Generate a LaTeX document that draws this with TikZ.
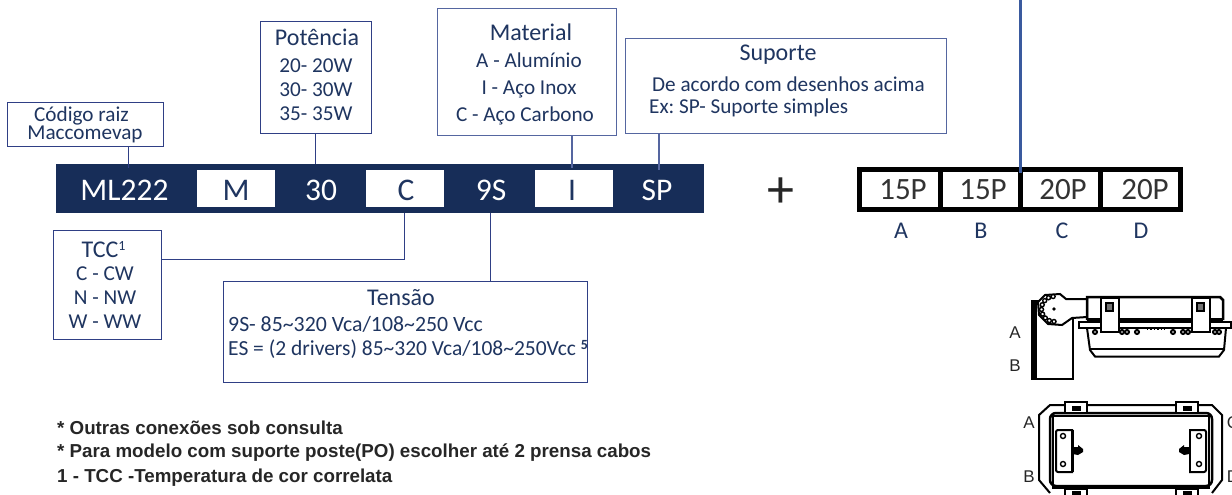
\documentclass[tikz,border=0pt]{standalone}
\usepackage{fontspec}
\setmainfont{Carlito}
\newfontfamily\notefont{Liberation Sans}
\usepackage{xcolor}
\definecolor{navy}{HTML}{172D58}
\definecolor{boxline}{HTML}{2F3F85}
\definecolor{slate}{HTML}{5566A0}
\definecolor{txt}{HTML}{1F3560}
\definecolor{cable}{HTML}{3A5A9E}
\newcommand{\fsz}[1]{\fontsize{#1}{#1}\selectfont}
\frenchspacing

\begin{document}
\begin{tikzpicture}[x=1pt,y=-1pt]
    \tikzset{infobox/.style = {shape=rectangle, draw=boxline, line width=1, inner sep=0, fill=white}}
    \tikzset{softbox/.style = {infobox, draw=slate}}
    \tikzset{title/.style = {inner sep=0, text=txt, font=\fsz{24}}}
    \tikzset{entry/.style = {inner sep=0, text=txt, font=\fsz{21.2}}}
    \tikzset{barcell/.style = {shape=rectangle, fill=white, inner sep=0, minimum width=78, minimum height=37}}
    \tikzset{bartext/.style = {inner sep=0, text=white, font=\fsz{31.5}}}
    \tikzset{link/.style = {draw=boxline, line width=1}}
    \tikzset{softlink/.style = {draw=slate, line width=1.2}}
    \tikzset{pincell/.style = {shape=rectangle, draw=black, line width=5, inner sep=0, minimum width=80.5, minimum height=40.5}}
    \tikzset{pintext/.style = {inner sep=0, text=black!80, font=\fsz{31}}}
    \tikzset{pinname/.style = {inner sep=0, text=txt, font=\fsz{24}}}
    \tikzset{note/.style = {anchor=west, inner sep=0, text=black!85, font=\notefont\bfseries\fsz{18.75}}}
    \tikzset{viewlabel/.style = {inner sep=0, text=black!85, font=\notefont\fsz{17}}}
    \tikzset{part/.style = {draw=black, line width=1.4}}

    \useasboundingbox (0,0) rectangle (1232,495);
    \clip (0,0) rectangle (1232,495);

    % code bar
    \node[shape=rectangle, fill=navy, inner sep=0, minimum width=648, minimum height=49] (bar) at (380,188.5) {};
    \node[barcell] (cellm) at (236,188.5) {};
    \node[barcell] (cellc) at (405,188.5) {};
    \node[barcell] (celli) at (574,188.5) {};
    \node[bartext] (ml) at (124.5,190) {ML222};
    \node[bartext, text=txt] (m) at (236,190) {M};
    \node[bartext] (pw) at (321,190) {30};
    \node[bartext, text=txt] (c) at (406,190) {C};
    \node[bartext] (ns) at (491,190) {9S};
    \node[bartext, text=txt] (i) at (572,190) {I};
    \node[bartext] (sp) at (657,190) {SP};

    % boxes above
    \node[infobox, minimum width=156.5, minimum height=44] (cod) at (85.25,124) {};
    \node[entry] (cod1) at (81.5,116) {Código raiz};
    \node[entry] (cod2) at (85,134) {Maccomevap};

    \node[infobox, minimum width=111, minimum height=111.5] (pot) at (315.5,77.25) {};
    \node[title] (pot0) at (317,37) {Potência};
    \node[entry] (pot1) at (316,66) {20- 20W};
    \node[entry] (pot2) at (316,90) {30- 30W};
    \node[entry] (pot3) at (316,114) {35- 35W};

    \node[softbox, minimum width=179, minimum height=126.5] (mat) at (526.5,71.75) {};
    \node[title] (mat0) at (531,32) {Material};
    \node[entry] (mat1) at (529,60) {A - Alumínio};
    \node[entry] (mat2) at (529,89) {I - Aço Inox};
    \node[entry] (mat3) at (525,116) {C - Aço Carbono};

    \node[softbox, minimum width=320.5, minimum height=94] (sup) at (785.75,86) {};
    \node[title] (sup0) at (778,55) {Suporte};
    \node[entry, anchor=west] (sup1) at (652,84) {De acordo com desenhos acima};
    \node[entry, anchor=west] (sup2) at (649,108) {Ex: SP- Suporte simples};

    % boxes below
    \node[infobox, minimum width=108, minimum height=109] (tcc) at (107,284.5) {};
    \node[title] (tcc0) at (103.5,250) {TCC\raisebox{7pt}{\fsz{14}1}};
    \node[entry] (tcc1) at (105,274) {C - CW};
    \node[entry] (tcc2) at (105,298) {N - NW};
    \node[entry] (tcc3) at (105,322) {W - WW};

    \node[infobox, minimum width=364, minimum height=101] (ten) at (405,331.5) {};
    \node[title] (ten0) at (401,298) {Tensão};
    \node[entry, anchor=west, font=\fsz{21.8}] (ten1) at (228,324) {9S- 85\textasciitilde 320 Vca/108\textasciitilde 250 Vcc};
    \node[entry, anchor=west, font=\fsz{21.5}] (ten2) at (228,349) {ES = (2 drivers) 85\textasciitilde 320 Vca/108\textasciitilde 250Vcc \raisebox{6pt}{\fsz{14}\textbf{5}}};

    % connectors
    \coordinate (codfoot) at (128.5,168);
    \coordinate (potfoot) at (315,164);
    \coordinate (matfoot) at (572,168);
    \coordinate (supfoot) at (659,170);
    \coordinate (tccfoot) at (404,213);
    \coordinate (tccbend) at (404,259);
    \coordinate (tenfoot) at (490,213);
    \draw[link] (codfoot |- cod.south) -- (codfoot);
    \draw[link] (potfoot |- pot.south) -- (potfoot);
    \draw[softlink] (matfoot |- mat.south) -- (matfoot);
    \draw[softlink] (supfoot |- sup.south) -- (supfoot);
    \draw[link] (tcc.east |- tccbend) -- (tccbend) -- (tccfoot);
    \draw[link] (tenfoot |- ten.north) -- (tenfoot);

    % plus
    \node[inner sep=0, text=black!85, font=\fsz{54}] (plus) at (780.5,193) {+};

    % pin table
    \node[pincell] (pa) at (900,189.5) {};
    \node[pincell] (pb) at (980.5,189.5) {};
    \node[pincell] (pc) at (1060.5,189.5) {};
    \node[pincell] (pd) at (1140.5,189.5) {};
    \node[pintext] (ta) at (903,190) {15P};
    \node[pintext] (tb) at (983,190) {15P};
    \node[pintext] (tc) at (1063,190) {20P};
    \node[pintext] (td) at (1145,190) {20P};
    \node[pinname] (na) at (901,231) {A};
    \node[pinname] (nb) at (981,231) {B};
    \node[pinname] (nc) at (1062,231) {C};
    \node[pinname] (nd) at (1141,231) {D};
    \coordinate (cabletop) at (1020.5,0);
    \draw[draw=cable, line width=2.2] (cabletop) -- (1020.5,173);

    % notes
    \node[note] (n1) at (57,428) {* Outras conexões sob consulta};
    \node[note] (n2) at (57,453) {* Para modelo com suporte poste(PO) escolher até 2 prensa cabos};
    \node[note] (n3) at (57,478) {1 - TCC -Temperatura de cor correlata};

    % side view
    \draw[part] (1032,301) rectangle (1073,379);
    \fill (1032,301) rectangle (1037,379);
    \draw[part, line width=2, fill=white] (1045,295) -- (1060,294) -- (1066,299) -- (1087,299) -- (1087,317) -- (1072,318) -- (1062,325) -- (1048,324) -- (1039,315) -- (1038,302) -- cycle;
    \foreach \ang in {90,112,...,270}
        \draw[part, fill=white] (1054,309) ++(\ang:12.5) circle (2);
    \fill (1054,309) circle (1.8);
    \draw[part, line width=2.5] (1087,320) -- (1087,297) -- (1220,297) -- (1223,300) -- (1223,320);
    \draw[part, line width=3.5] (1087,320) -- (1223,320);
    \draw[part, fill=white] (1079,322) rectangle (1231,328);
    \draw[part, line width=2] (1087,328) -- (1090,350) -- (1095,356.5) -- (1219,356.5) -- (1224,350) -- (1226,328);
    \draw[part] (1090,349) -- (1224,349);
    \foreach \px in {1095,1122,1127,1137,1173,1183,1188,1215,1219}
        \draw[part, line width=2, fill=white] (\px,332) circle (2);
    \draw[part, dotted] (1147,329) -- (1165,329);
    \foreach \px in {1101,1192} {
        \draw[part, line width=2, fill=white] (\px,298) rectangle (\px+18,332);
        \draw[part, fill=black!55] (\px+5,303) rectangle (\px+12,311);
    }
    \node[viewlabel] (sa) at (1015,333) {A};
    \node[viewlabel] (sb) at (1015,366) {B};

    % bottom view
    \draw[part, line width=2] (1050,493) -- (1039,480) -- (1039,415) -- (1050,405) -- (1212,405) -- (1222,415) -- (1222,480) -- (1212,493);
    \draw[part, line width=2.5, rounded corners=6] (1050,413) rectangle (1212,486);
    \draw[part] (1053,416) rectangle (1209,488);
    \foreach \px in {1065,1176} {
        \draw[part, line width=2, fill=white] (\px,402) rectangle (\px+22,413);
        \fill (\px+7,406) rectangle (\px+16,411);
        \draw[part, line width=2, fill=white] (\px,489) rectangle (\px+22,500);
        \fill (\px+7,491) rectangle (\px+16,500);
    }
    \draw[part, line width=2, rounded corners=2] (1073,430) -- (1056,430) -- (1056,472) -- (1073,472);
    \fill (1071,430) rectangle (1073.5,472);
    \draw[part] (1063,436) circle (2.5);
    \draw[part] (1063,464) circle (2.5);
    \fill (1073,447) -- (1078,447) -- (1078,445) -- (1083,449) -- (1083,452) -- (1078,455) -- (1073,454) -- cycle;
    \draw[part, line width=2, rounded corners=2] (1189,430) -- (1206,430) -- (1206,472) -- (1189,472);
    \fill (1188.5,430) rectangle (1191,472);
    \draw[part] (1199,436) circle (2.5);
    \draw[part] (1199,464) circle (2.5);
    \fill (1189,447) -- (1184,447) -- (1184,445) -- (1179,449) -- (1179,452) -- (1184,455) -- (1189,454) -- cycle;
    \node[viewlabel] (ba) at (1029,423) {A};
    \node[viewlabel] (bb) at (1029,477) {B};
    \node[viewlabel] (bc) at (1233,423) {C};
    \node[viewlabel] (bd) at (1233,477) {D};
\end{tikzpicture}
\end{document}
